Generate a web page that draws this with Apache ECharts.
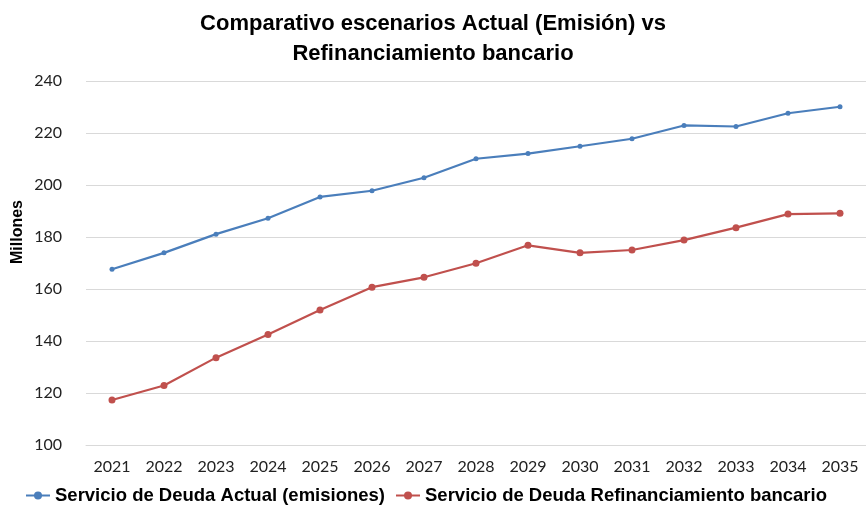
<!DOCTYPE html>
<html lang="es">
<head>
    <meta charset="UTF-8">
    <title>Comparativo escenarios</title>
    <script src="https://cdn.jsdelivr.net/npm/echarts@6/dist/echarts.min.js"></script>
    <style>
        html, body { margin: 0; padding: 0; background: #fff; }
        #main { width: 866px; height: 507px; }
    </style>
</head>
<body>
<div id="main"></div>
<script type="text/javascript">
    // datos
    var years = ['2021', '2022', '2023', '2024', '2025', '2026', '2027', '2028',
        '2029', '2030', '2031', '2032', '2033', '2034', '2035'];
    var actual = [167.6, 173.9, 181.1, 187.2, 195.4, 197.8, 202.8, 210.1,
        212.1, 214.9, 217.8, 222.9, 222.5, 227.6, 230.1];
    var refinanciamiento = [117.3, 122.9, 133.6, 142.5, 151.9, 160.7, 164.5, 169.9,
        176.8, 173.9, 175.0, 178.8, 183.6, 188.8, 189.1];
    var nameActual = 'Servicio de Deuda Actual (emisiones)';
    var nameRefi = 'Servicio de Deuda Refinanciamiento bancario';

    var myChart = echarts.init(document.getElementById('main'));
    var option = {
        animation: false,
        title: {
            text: 'Comparativo escenarios Actual (Emisión) vs\nRefinanciamiento bancario',
            left: 428,
            textAlign: 'center',
            top: 4,
            textStyle: {
                fontFamily: 'Liberation Sans',
                fontSize: 22,
                fontWeight: 'bold',
                color: '#000',
                lineHeight: 30
            }
        },
        grid: {
            left: 86,
            right: -6,
            top: 81,
            bottom: 62
        },
        legend: {
            top: 481,
            left: 20,
            itemWidth: 24,
            itemHeight: 10,
            itemGap: 10,
            textStyle: {
                fontFamily: 'Liberation Sans',
                fontSize: 18.5,
                fontWeight: 'bold',
                color: '#000'
            },
            data: [nameActual, nameRefi]
        },
        // titulo del eje y
        graphic: [{
            type: 'text',
            x: 18,
            y: 232,
            rotation: Math.PI / 2,
            style: {
                text: 'Millones',
                font: 'bold 16px "Liberation Sans"',
                fill: '#000',
                align: 'center',
                verticalAlign: 'middle'
            }
        }],
        xAxis: {
            type: 'category',
            data: years,
            boundaryGap: true,
            axisLine: { show: true, lineStyle: { color: '#d9d9d9' } },
            axisTick: { show: false },
            axisLabel: {
                fontFamily: 'Lato',
                fontSize: 16,
                color: '#222',
                margin: 14
            }
        },
        yAxis: {
            type: 'value',
            min: 100,
            max: 240,
            interval: 20,
            axisLine: { show: false },
            axisTick: { show: false },
            splitLine: { lineStyle: { color: '#d9d9d9' } },
            axisLabel: {
                fontFamily: 'Lato',
                fontSize: 16,
                color: '#222',
                margin: 24
            }
        },
        series: [
            {
                name: nameActual,
                type: 'line',
                data: actual,
                symbol: 'circle',
                symbolSize: 5,
                lineStyle: { color: '#4a7ebb', width: 2.2 },
                itemStyle: { color: '#4a7ebb' }
            },
            {
                name: nameRefi,
                type: 'line',
                data: refinanciamiento,
                symbol: 'circle',
                symbolSize: 7,
                lineStyle: { color: '#c0504d', width: 2.2 },
                itemStyle: { color: '#c0504d' }
            }
        ]
    };
    myChart.setOption(option);
</script>
</body>
</html>
